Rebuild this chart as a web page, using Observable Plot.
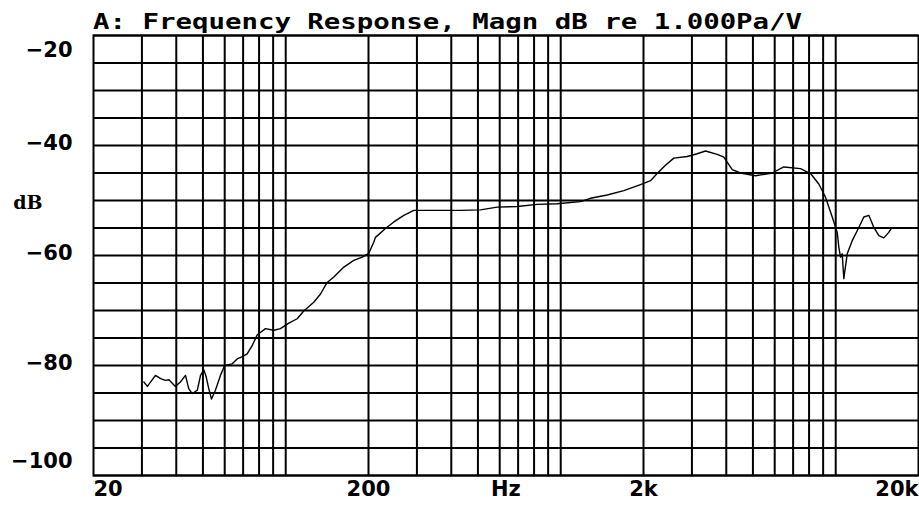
<!DOCTYPE html>
<html>
<head>
<meta charset="utf-8">
<script src="https://cdn.jsdelivr.net/npm/d3@7"></script>
<script src="https://cdn.jsdelivr.net/npm/@observablehq/plot@0.6"></script>
<style>
  html, body { margin: 0; padding: 0; background: #fff; }
  #wrap { width: 919px; height: 505px; overflow: hidden; }
  #title {
    box-sizing: border-box;
    height: 33px;
    padding: 11px 0 0 93px;
    overflow: visible;
    white-space: nowrap;
  }
  #title span {
    display: inline-block;
    font-family: "DejaVu Sans Mono", monospace;
    font-weight: bold;
    font-size: 22px;
    line-height: 22px;
    color: #000;
    transform: scaleX(1.245);
    transform-origin: 0 50%;
  }
</style>
</head>
<body>
<div id="wrap">
  <div id="title"><span>A: Frequency Response, Magn dB re 1.000Pa/V</span></div>
  <div id="chart"></div>
</div>
<script>
// Measured response (Hz, dB)
const freqHz = [30.5, 31.4, 33.6, 35.1, 36.5, 37.6, 39.7, 41.4, 43.2, 44.4, 45.7, 47.7, 49.0, 50.4, 51.4, 52.5, 53.7, 55.5, 57.9, 60.0,
  63.9, 66.6, 69.5, 72.4, 75.5, 78.8, 84.4, 90.5, 95.7, 102.6, 110.1, 116.3, 126.5, 133.8, 141.5, 149.6, 162.7, 176.8, 189.7, 200.5,
  209, 212, 230.6, 247.2, 268.8, 292.2, 327, 432, 510.8, 587.6, 694.6, 821.4, 971, 1180, 1283, 1476, 1696, 1950, 2121, 2242,
  2404, 2578, 2884, 3136, 3362, 3707, 3918, 4204, 4506, 5108, 5876, 6474, 7448, 8098, 8680, 9180, 9712, 10128, 10264, 10412,
  10558, 10702, 11010, 11482, 12134, 12654, 13196, 13762, 14348, 14958, 15596, 15912];
const magDb = [-83.0, -83.8, -81.8, -82.4, -82.7, -82.6, -83.8, -83.0, -81.8, -84.2, -85.1, -84.5, -81.8, -80.8, -82.1, -84.2, -86.1, -84.5, -81.8, -80.0,
  -79.7, -78.8, -78.4, -77.9, -76.4, -74.4, -73.3, -73.6, -73.3, -72.3, -71.5, -70.1, -68.5, -67.0, -64.9, -63.9, -62.1, -60.9, -60.3, -59.6,
  -57.6, -56.7, -55.1, -53.9, -52.7, -51.8, -51.8, -51.8, -51.7, -51.2, -51.1, -50.7, -50.6, -50.2, -49.6, -49.0, -48.2, -47.1, -46.4, -45.1,
  -43.6, -42.3, -42.0, -41.5, -41.0, -41.6, -42.1, -44.4, -45.0, -45.5, -45.0, -43.9, -44.2, -45.1, -47.0, -49.4, -53.0, -55.8, -58.5, -60.3,
  -59.7, -64.2, -59.7, -57.3, -54.9, -53.0, -52.7, -54.9, -56.4, -56.8, -55.8, -55.1];

// Axes / grid
const xGridValues = [30, 40, 50, 60, 70, 80, 90, 100, 200, 300, 400, 500, 600, 700, 800, 900, 1000,
  2000, 3000, 4000, 5000, 6000, 7000, 8000, 9000, 10000];
const yGridValues = [-100, -95, -90, -85, -80, -75, -70, -65, -60, -55, -50, -45, -40, -35, -30, -25, -20];
const xTickValues = [20, 200, 632, 2000, 20000];
const xTickLabels = ["20", "200", "Hz", "2k", "20k"];
const yTickValues = [-20, -40, -60, -80, -100];
const yTickLabels = ["\u221220", "\u221240", "\u221260", "\u221280", "\u2212100"];
const yUnitValue = [-50];
const yUnitLabel = "dB";

const data = freqHz.map((f, i) => ({f, db: magDb[i]}));
const fmtX = v => xTickLabels[xTickValues.indexOf(v)];
const fmtY = v => yTickLabels[yTickValues.indexOf(v)];

const gridStyle = {stroke: "#000", strokeOpacity: 1, strokeWidth: 2};
const yAxisStyle = {tickSize: 0, tickPadding: 21, tickFormat: fmtY, label: null, fontSize: 21};
const xAxisStyle = {tickSize: 0, tickPadding: 6, tickFormat: fmtX, label: null, fontSize: 21};

const chart = Plot.plot({
  width: 919,
  height: 472,
  marginLeft: 93,
  marginRight: 1,
  marginTop: 2,
  marginBottom: 30,
  style: {background: "#fff", color: "#000", fontFamily: "DejaVu Sans, sans-serif", fontWeight: "bold", fontSize: "21px"},
  x: {type: "log", domain: [20, 20000], axis: null},
  y: {domain: [-100, -20], axis: null},
  marks: [
    Plot.gridY(yGridValues, gridStyle),
    Plot.gridX(xGridValues, gridStyle),
    Plot.line(data, {x: "f", y: "db", stroke: "#000", strokeWidth: 1.4}),
    Plot.frame({stroke: "#000", strokeWidth: 2}),
    Plot.axisY(yTickValues.slice(1, 4), {...yAxisStyle, dy: -2}),
    Plot.axisY(yTickValues.slice(0, 1), {...yAxisStyle, dy: 15}),
    Plot.axisY(yTickValues.slice(4), {...yAxisStyle, dy: -14}),
    Plot.axisY(yUnitValue, {tickSize: 0, tickPadding: 51, tickFormat: () => yUnitLabel, label: null,
      fontFamily: "DejaVu Serif, serif", fontSize: 19, dy: 2}),
    Plot.axisX([xTickValues[1], xTickValues[3]], xAxisStyle),
    Plot.text([xTickValues[2]], {x: d => d, text: d => fmtX(d), frameAnchor: "bottom", lineAnchor: "top",
      dy: 6, fontSize: 21, fontWeight: "bold", fill: "#000"}),
    Plot.axisX(xTickValues.slice(0, 1), {...xAxisStyle, textAnchor: "start"}),
    Plot.axisX(xTickValues.slice(4), {...xAxisStyle, textAnchor: "end"})
  ]
});
document.getElementById("chart").appendChild(chart);
</script>
</body>
</html>
